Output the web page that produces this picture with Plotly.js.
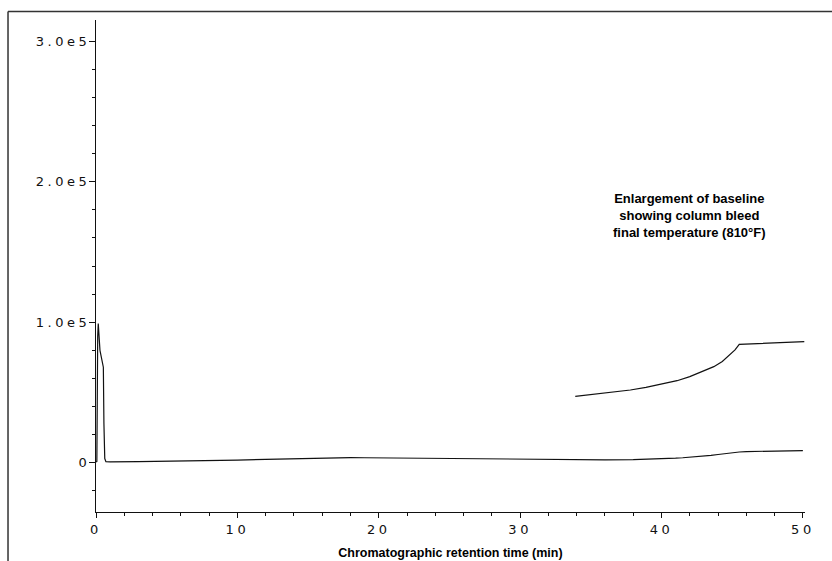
<!DOCTYPE html>
<html>
<head>
<meta charset="utf-8">
<script src="https://cdn.plot.ly/plotly-3.0.1.min.js"></script>
<style>
  html, body { margin: 0; padding: 0; background: #fff; }
  #chart { width: 832px; height: 561px; }
  .xtick text, .ytick text { letter-spacing: 3.5px; }
</style>
</head>
<body>
<div id="chart"></div>
<script>
// Main chromatogram (retention time in min, detector response)
const mainTime = [0, 0.06, 0.12, 0.16, 0.28, 0.52, 0.56, 0.62, 0.7, 1, 3, 5, 8, 10, 12, 13.5, 15, 16, 17, 18, 19, 20, 22, 23, 25, 27, 28, 30, 31, 33, 35, 36, 38, 39, 40, 41, 41.5, 42, 43, 43.5, 44, 44.5, 45, 45.5, 46, 47, 48, 49, 50];
const mainResp = [500, 1000, 90000, 99000, 80000, 68000, 28000, 3000, 800, 700, 900, 1100, 1500, 1900, 2500, 2900, 3300, 3600, 3800, 3700, 3600, 3500, 3400, 3300, 3200, 3000, 2800, 2500, 2400, 2200, 2100, 2100, 2300, 2500, 2800, 3300, 3600, 3900, 4700, 5300, 5900, 6600, 7200, 7700, 8000, 8300, 8500, 8600, 8700];

// Enlargement of baseline (column bleed)
const enlTime = [33.9, 35.4, 36.6, 37.8, 38.9, 40.1, 41.1, 42.0, 42.9, 43.7, 44.3, 44.8, 45.2, 45.5, 47.2, 50.1];
const enlResp = [47300, 48900, 50300, 51800, 53700, 56000, 58400, 61300, 64800, 68400, 72100, 76700, 80300, 84300, 85000, 86200];

// Axis ticks
const yTickVals = [0, 100000, 200000, 300000];
const yTickText = ["0", "1.0e5", "2.0e5", "3.0e5"];
const xTickVals = [0, 10, 20, 30, 40, 50];
const xTickText = ["0", "10", "20", "30", "40", "50"];

const noteText = "Enlargement of baseline<br>showing column bleed<br>final temperature (810°F)";
const xTitle = "Chromatographic retention time (min)";

const tickFont = { family: "DejaVu Sans", size: 13, color: "#111" };

const traces = [
  { x: mainTime, y: mainResp, type: "scatter", mode: "lines",
    line: { color: "#111", width: 1.2 }, hoverinfo: "x+y", showlegend: false },
  { x: enlTime, y: enlResp, type: "scatter", mode: "lines",
    line: { color: "#111", width: 1.2 }, hoverinfo: "x+y", showlegend: false }
];

const layout = {
  width: 832, height: 561,
  margin: { l: 96, r: 27, t: 20, b: 49 },
  paper_bgcolor: "#fff", plot_bgcolor: "#fff",
  showlegend: false,
  xaxis: {
    range: [0, 50.15], showgrid: false, zeroline: false,
    showline: true, linecolor: "#111", linewidth: 1.2,
    tickmode: "array", tickvals: xTickVals, ticktext: xTickText,
    ticks: "outside", ticklen: 5, tickcolor: "#111", tickwidth: 1,
    minor: { dtick: 2, tick0: 0, ticks: "outside", ticklen: 3, tickcolor: "#111", showgrid: false },
    tickfont: tickFont, ticklabelstandoff: 0,
    title: { text: xTitle, font: { family: "Liberation Sans", size: 12.5, color: "#000", weight: "bold" }, standoff: 12 }
  },
  yaxis: {
    range: [-35000, 315000], showgrid: false, zeroline: false,
    showline: true, linecolor: "#111", linewidth: 1.2,
    tickmode: "array", tickvals: yTickVals, ticktext: yTickText,
    ticks: "outside", ticklen: 6, tickcolor: "#111", tickwidth: 1,
    minor: { dtick: 20000, tick0: 0, ticks: "outside", ticklen: 3, tickcolor: "#111", showgrid: false },
    tickfont: tickFont, ticklabelstandoff: -4
  },
  annotations: [
    { xref: "paper", yref: "paper", x: (689 - 96) / 709, y: (512 - 216) / 492,
      xanchor: "center", yanchor: "middle", showarrow: false, align: "center",
      text: noteText,
      font: { family: "Liberation Sans", size: 13, color: "#000", weight: "bold" } }
  ],
  shapes: [
    { type: "line", xref: "paper", yref: "paper", x0: -0.1241, x1: 1.04, y0: 1.0173, y1: 1.0173,
      line: { color: "#333", width: 1.5 } },
    { type: "line", xref: "paper", yref: "paper", x0: -0.1241, x1: -0.1241, y0: 1.0173, y1: -0.11,
      line: { color: "#333", width: 1.5 } }
  ]
};

Plotly.newPlot("chart", traces, layout, { displayModeBar: false, staticPlot: true });
</script>
</body>
</html>
